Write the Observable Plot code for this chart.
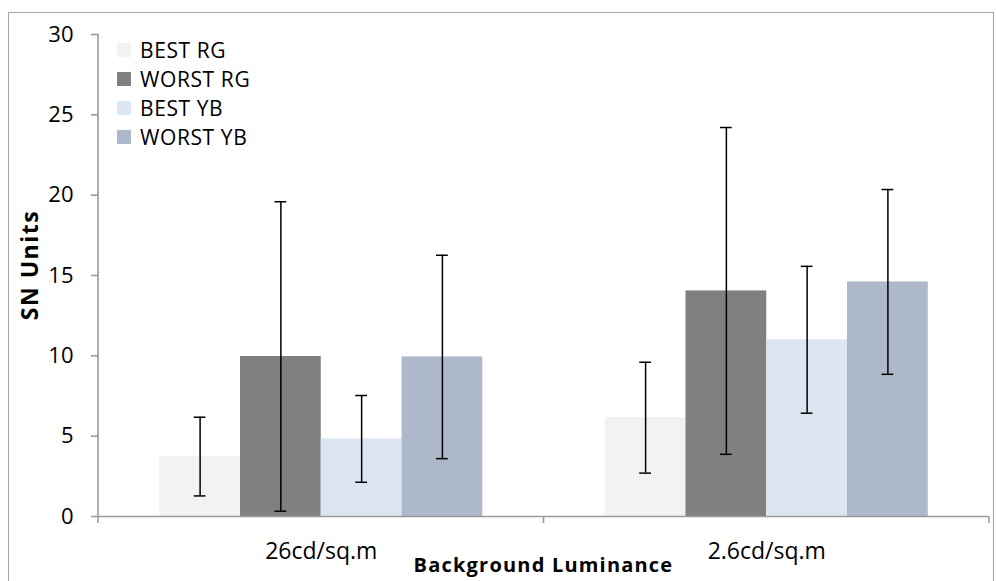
<!DOCTYPE html>
<html>
<head>
<meta charset="utf-8">
<script src="https://cdn.jsdelivr.net/npm/d3@7"></script>
<script src="https://cdn.jsdelivr.net/npm/@observablehq/plot@0.6"></script>
<style>
  html, body { margin: 0; padding: 0; background: #fff; }
  #wrap { position: relative; width: 996px; height: 581px; overflow: hidden; font-family: "Open Sans", sans-serif; }
  #border { position: absolute; left: 8px; top: 12px; width: 986px; height: 620px; border: 1px solid #a6a6a6; box-sizing: border-box; }
  #chart { position: absolute; left: 0; top: 0; }
  #legend { position: absolute; left: 117px; top: 35px; }
  .row { display: flex; align-items: center; height: 29px; font-size: 21px; letter-spacing: 0.6px; color: #000; white-space: nowrap; }
  .sw { width: 14px; height: 14px; margin-right: 9px; flex: none; }
</style>
</head>
<body>
<div id="wrap">
  <div id="border"></div>
  <div id="chart"></div>
  <div id="legend"></div>
</div>
<script>
// ---- data ----
const categories = ["26cd/sq.m", "2.6cd/sq.m"];
const series = ["BEST RG", "WORST RG", "BEST YB", "WORST YB"];
const seriesColors = ["#f2f2f2", "#808080", "#dce6f2", "#adb9ca"];
const means26 = [3.73, 9.96, 4.83, 9.93];
const errors26 = [2.45, 9.63, 2.70, 6.33];
const means2_6 = [6.15, 14.04, 11.00, 14.60];
const errors2_6 = [3.45, 10.17, 4.57, 5.75];
const yTicks = [0, 5, 10, 15, 20, 25, 30];
const yTitle = "SN Units";
const xTitle = "Background Luminance";

const meansByCat = [means26, means2_6];
const errorsByCat = [errors26, errors2_6];
const rows = [];
categories.forEach((cat, i) => {
  series.forEach((s, j) => {
    rows.push({cat, series: s, mean: meansByCat[i][j], err: errorsByCat[i][j]});
  });
});

const axisGray = "#9a9a9a";

const chart = Plot.plot({
  width: 996,
  height: 581,
  marginLeft: 98,
  marginRight: 7,
  marginTop: 34,
  marginBottom: 65,
  style: { fontFamily: '"Open Sans", sans-serif', background: "transparent", color: "#000" },
  fx: { domain: categories, paddingInner: 0, paddingOuter: 0, round: false, label: null },
  x: { domain: series, paddingInner: 0, paddingOuter: 0.758, round: false, axis: null },
  y: { domain: [0, 30], label: null },
  color: { domain: series, range: seriesColors },
  marks: [
    Plot.barY(rows, { fx: "cat", x: "series", y: "mean", fill: "series" }),
    Plot.ruleY([0], { stroke: axisGray, strokeWidth: 1.6 }),
    Plot.ruleX(rows, { fx: "cat", x: "series", y1: d => d.mean - d.err, y2: d => d.mean + d.err, stroke: "#000", strokeWidth: 1.5 }),
    Plot.tickY(rows, { fx: "cat", x: "series", y: d => d.mean - d.err, stroke: "#000", strokeWidth: 1.5, insetLeft: 34.5, insetRight: 34.5 }),
    Plot.tickY(rows, { fx: "cat", x: "series", y: d => d.mean + d.err, stroke: "#000", strokeWidth: 1.5, insetLeft: 34.5, insetRight: 34.5 }),
    Plot.axisY({ ticks: yTicks, tickSize: 7, tickPadding: 18, fontSize: 22, stroke: axisGray, strokeWidth: 1.6, label: null }),
    Plot.axisFx({ anchor: "bottom", tickSize: 0, tickPadding: 26, fontSize: 23, label: null })
  ]
});
document.getElementById("chart").appendChild(chart);

// axis lines + category boundary ticks, placed with Plot's own scales
const svg = d3.select(chart);
const ys = chart.scale("y");
const fxs = chart.scale("fx");
const y0 = ys.apply(0), yTop = ys.apply(30);
const left = fxs.range[0], right = fxs.range[1];
const g = svg.append("g").attr("stroke", axisGray).attr("stroke-width", 1.6);
g.append("line").attr("x1", left).attr("x2", left).attr("y1", yTop).attr("y2", y0 + 7);
const bounds = categories.map(c => fxs.apply(c)).concat([fxs.apply(categories[categories.length - 1]) + fxs.bandwidth]);
bounds.slice(1).forEach(b => {
  g.append("line").attr("x1", b).attr("x2", b).attr("y1", y0).attr("y2", y0 + 7);
});

// axis titles
svg.append("text")
  .attr("transform", `translate(38,265) rotate(-90)`)
  .attr("text-anchor", "middle")
  .attr("font-size", 23).attr("font-weight", "bold").attr("letter-spacing", "1.5px")
  .attr("fill", "#000")
  .text(yTitle);
svg.append("text")
  .attr("x", (left + right) / 2).attr("y", 572)
  .attr("text-anchor", "middle")
  .attr("font-size", 20).attr("font-weight", "bold").attr("letter-spacing", "1.2px")
  .attr("fill", "#000")
  .text(xTitle);

// legend
const legend = document.getElementById("legend");
series.forEach((s, i) => {
  const row = document.createElement("div");
  row.className = "row";
  const sw = document.createElement("span");
  sw.className = "sw";
  sw.style.background = chart.scale("color").apply(s);
  const t = document.createElement("span");
  t.textContent = s;
  row.appendChild(sw);
  row.appendChild(t);
  legend.appendChild(row);
});
</script>
</body>
</html>
